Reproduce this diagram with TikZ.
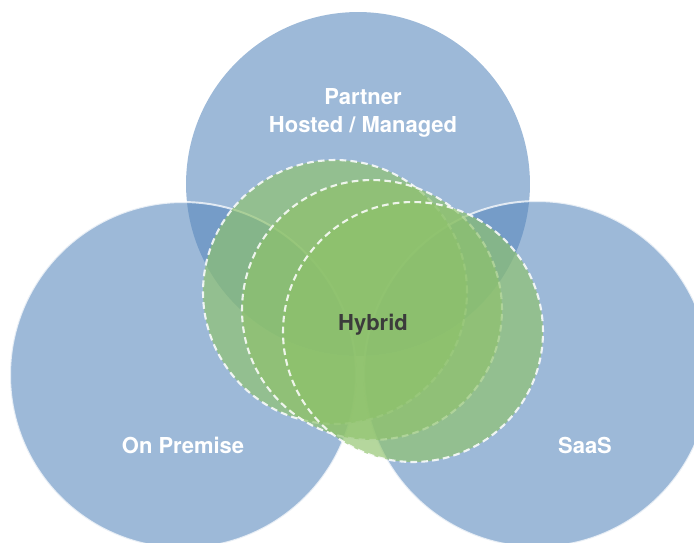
\documentclass[tikz,border=0pt]{standalone}
\usepackage{fontspec}
\setmainfont{TeX Gyre Heros}
\definecolor{cloudblue}{RGB}{87,135,188}
\definecolor{hybridgreen}{RGB}{142,194,107}
\definecolor{labelgray}{RGB}{59,59,59}

\tikzset{
  model/.style={circle, inner sep=0pt, fill=cloudblue, fill opacity=.58},
  rimmed/.style={model, draw=white, draw opacity=.75, line width=1.1pt},
  ring/.style={circle, inner sep=0pt, fill=hybridgreen, fill opacity=.66,
    draw=white, draw opacity=.85, line width=1.2pt,
    dash pattern=on 3.8pt off 2.4pt},
  caption/.style={font=\bfseries\fontsize{12.5}{16}\selectfont, text=white, align=center}
}

\newcommand*{\HybridRings}[1]{% #1 = list of name/x/y/diameter
  \foreach \name/\x/\y/\size in {#1} {
    \node [ring, minimum size=\size cm] (\name) at (\x,\y) {};
  }%
}

\begin{document}
\begin{tikzpicture}[x=.02cm, y=-.02cm]
    \useasboundingbox (0,0) rectangle (694,542);
    \clip (0,0) rectangle (694,542);

    % the three delivery models
    \node [model, minimum size=6.88cm] (partner) at (358,184) {};
    \node [rimmed, minimum size=6.92cm] (premise) at (183,375) {};
    \node [rimmed, minimum size=6.92cm] (saas) at (537,374) {};

    % hybrid overlap
    \HybridRings{
        ringa/335/292/5.28,
        ringb/372/310/5.2,
        ringc/413/332/5.2
    }

    \node [caption] (partnerlabel) at (363,113) {Partner\\Hosted / Managed};
    \node [caption] (premiselabel) at (183,445) {On Premise};
    \node [caption] (saaslabel) at (585,445) {SaaS};
    \node [caption, text=labelgray] (hybridlabel) at (373,325) {Hybrid};
\end{tikzpicture}
\end{document}
